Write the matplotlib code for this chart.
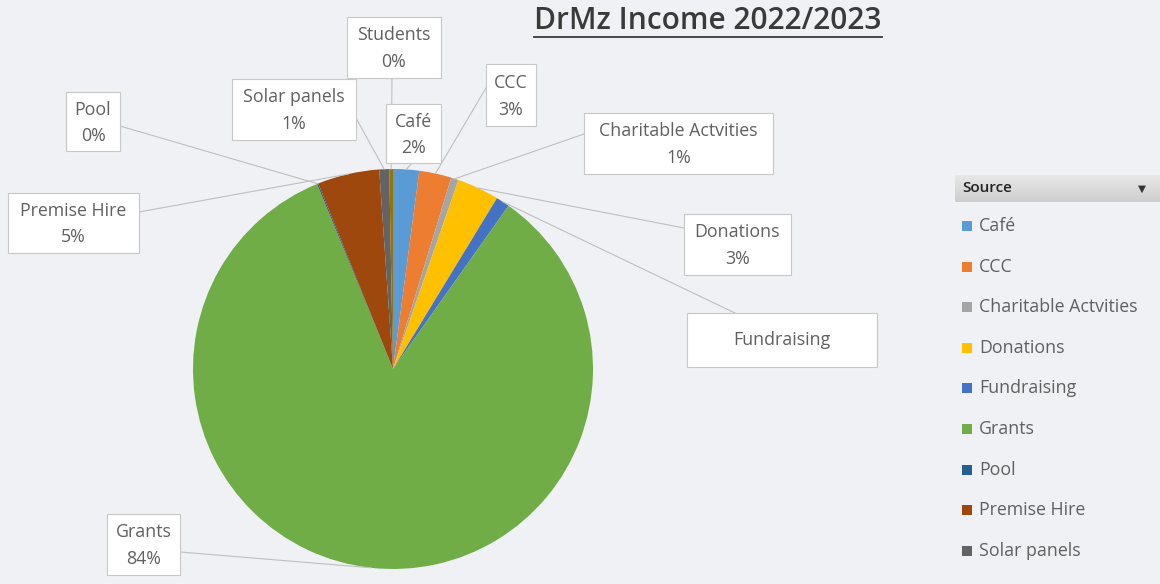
import numpy as np
import matplotlib
matplotlib.use("Agg")
import matplotlib.pyplot as plt
from matplotlib.patches import Rectangle

# income share by source (percent of total)
sources = ["Café", "CCC", "Charitable Actvities", "Donations", "Fundraising",
           "Grants", "Pool", "Premise Hire", "Solar panels", "Students"]
shares = [2.1, 2.6, 0.6, 3.4, 1.1, 84.0, 0.1, 5.0, 0.8, 0.3]
show_pct = [True, True, True, True, False, True, True, True, True, True]
colors = ["#5B9BD5", "#ED7D31", "#A5A5A5", "#FFC000", "#4472C4",
          "#70AD47", "#255E91", "#9E480E", "#636363", "#997300"]
legend_sources = sources[:9]

# label boxes in pixel space: (x0, y0, x1, y1) and where the leader line meets the box
label_boxes = {
    "Café": ((386, 104, 441, 163), (412, 163)),
    "CCC": ((486, 64, 536, 126), (486, 88)),
    "Charitable Actvities": ((584, 113, 773, 174), (584, 134)),
    "Donations": ((684, 214, 791, 275), (684, 228)),
    "Fundraising": ((687, 313, 877, 367), (735, 313)),
    "Grants": ((107, 514, 180, 575), (180, 552)),
    "Pool": ((66, 92, 120, 151), (120, 126)),
    "Premise Hire": ((8, 193, 139, 253), (139, 212)),
    "Solar panels": ((232, 79, 356, 140), (356, 118)),
    "Students": ((347, 17, 441, 78), (392, 78)),
}

W, H = 1160, 584
bg = "#EFF1F4"
txt_col = "#606060"
font = "Open Sans"
fs = 12.8

fig = plt.figure(figsize=(W / 100, H / 100), dpi=100, facecolor=bg)
ax = fig.add_axes([0, 0, 1, 1])
ax.set_facecolor(bg)

cx, cy, r = 393, 369, 200
wedges, _ = ax.pie(shares, colors=colors, startangle=-90, counterclock=True,
                   center=(cx, cy), radius=r, wedgeprops=dict(linewidth=0))
ax.set_xlim(0, W)
ax.set_ylim(H, 0)
ax.set_aspect("equal")
ax.axis("off")

total = sum(shares)
for w, name, val, pct in zip(wedges, sources, shares, show_pct):
    mid = np.deg2rad((w.theta1 + w.theta2) / 2)
    px, py = cx + r * np.cos(mid), cy + r * np.sin(mid)
    (x0, y0, x1, y1), (ax_, ay_) = label_boxes[name]
    ax.plot([px, ax_], [py, ay_], color="#BFBFBF", lw=0.8, zorder=3)
    ax.add_patch(Rectangle((x0, y0), x1 - x0, y1 - y0, facecolor="white",
                           edgecolor="#C8C8C8", lw=0.8, zorder=4))
    xm = (x0 + x1) / 2
    if pct:
        hh = y1 - y0
        ax.text(xm, y0 + 0.30 * hh, name, ha="center", va="center",
                fontsize=fs, color=txt_col, family=font, zorder=5)
        ax.text(xm, y0 + 0.74 * hh, f"{round(val / total * 100):.0f}%",
                ha="center", va="center", fontsize=fs, color=txt_col,
                family=font, zorder=5)
    else:
        ax.text(xm, (y0 + y1) / 2, name, ha="center", va="center",
                fontsize=fs, color=txt_col, family=font, zorder=5)

# title with underline
title = ax.text(708, 21, "DrMz Income 2022/2023", ha="center", va="center",
                fontsize=21.5, color="#3A3A3A", family=font,
                fontweight="semibold", zorder=5)
fig.canvas.draw()
bb = title.get_window_extent(fig.canvas.get_renderer())
ax.plot([bb.x0, bb.x1], [37, 37], color="#3A3A3A", lw=1.3)

# legend panel
grad = np.linspace(0, 1, 50).reshape(-1, 1)
ax.imshow(grad, extent=(955, 1160, 202, 175), cmap=matplotlib.colors.LinearSegmentedColormap.from_list(
    "hdr", ["#E8E8E8", "#CDCDCD"]), aspect="auto", zorder=2)
ax.text(962, 188, "Source", ha="left", va="center", fontsize=11,
        color="#222222", family=font, fontweight="semibold", zorder=5)
ax.text(1142, 189, "▼", ha="center", va="center", fontsize=7.5,
        color="#333333", family="DejaVu Sans", zorder=5)
for i, name in enumerate(legend_sources):
    yy = 226 + i * 40.6
    ax.add_patch(Rectangle((962, yy - 5), 10, 10, facecolor=colors[i],
                           edgecolor="none", zorder=4))
    ax.text(979, yy, name, ha="left", va="center", fontsize=fs,
            color=txt_col, family=font, zorder=5)

ax.set_xlim(0, W)
ax.set_ylim(H, 0)
fig.savefig("out.png", dpi=100, facecolor=bg)
